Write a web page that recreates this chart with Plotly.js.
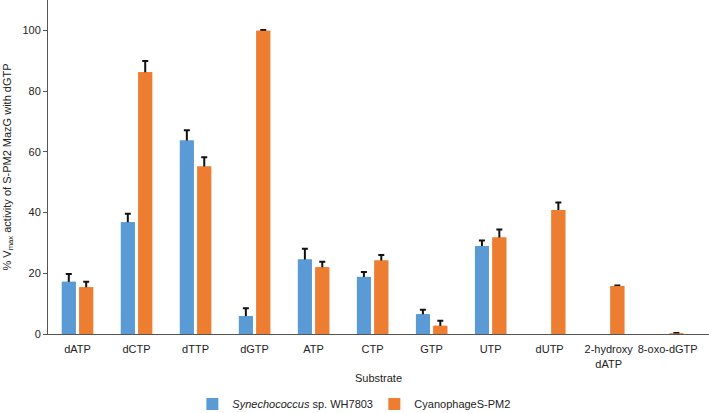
<!DOCTYPE html>
<html>
<head>
<meta charset="utf-8">
<script src="https://cdn.plot.ly/plotly-3.0.1.min.js"></script>
<style>html,body{margin:0;padding:0;background:#fff;}#chart{width:709px;height:413px;}</style>
</head>
<body>
<div id="chart"></div>
<script>
var categories = ['dATP','dCTP','dTTP','dGTP','ATP','CTP','GTP','UTP','dUTP','2-hydroxy<br>dATP','8-oxo-dGTP'];
var hostValues = [17.2, 36.8, 63.7, 5.9, 24.5, 18.8, 6.5, 29.0, null, null, null];
var hostErrors = [2.6, 2.8, 3.4, 2.6, 3.6, 1.6, 1.5, 1.8, null, null, null];
var phageValues = [15.4, 86.2, 55.2, 99.9, 22.0, 24.2, 2.7, 31.8, 40.8, 15.8, 0.2];
var phageErrors = [1.8, 3.7, 3.0, 0.2, 1.8, 1.8, 1.7, 2.6, 2.5, 0.2, 0.1];
var seriesNames = ['<i>Synechococcus</i> sp. WH7803', 'CyanophageS-PM2'];
var seriesColors = ['#5B9BD5', '#ED7D31'];

function errBar(errs) {
  return {type: 'data', array: errs, symmetric: true, visible: true,
          color: '#111', thickness: 2, width: 3};
}
var traces = [
  {type: 'bar', x: categories, y: hostValues, name: seriesNames[0], offsetgroup: 'a',
   marker: {color: seriesColors[0]}, error_y: errBar(hostErrors), hoverinfo: 'skip'},
  {type: 'bar', x: categories, y: phageValues, name: seriesNames[1], offsetgroup: 'b',
   marker: {color: seriesColors[1]}, error_y: errBar(phageErrors), hoverinfo: 'skip'},
  {type: 'bar', x: categories, y: hostValues, name: seriesNames[0], offsetgroup: 'a',
   marker: {color: seriesColors[0]}, showlegend: false, hoverinfo: 'skip'},
  {type: 'bar', x: categories, y: phageValues, name: seriesNames[1], offsetgroup: 'b',
   marker: {color: seriesColors[1]}, showlegend: false, hoverinfo: 'skip'}
];

var fontFam = '"Liberation Sans", Arial, Helvetica, sans-serif';
var layout = {
  width: 709, height: 413,
  margin: {l: 48, r: 0, t: 0, b: 79, autoexpand: false},
  paper_bgcolor: '#fff', plot_bgcolor: '#fff',
  font: {family: fontFam, size: 11, color: '#222'},
  barmode: 'group', bargap: 0.41, bargroupgap: 0.2,
  showlegend: true,
  legend: {orientation: 'h', xref: 'container', yref: 'container', x: 0.528, xanchor: 'center',
           y: 0.022, yanchor: 'middle', font: {size: 11, family: fontFam, color: '#222'},
           entrywidth: 137, entrywidthmode: 'pixels', traceorder: 'normal'},
  xaxis: {
    type: 'category', range: [-0.5, 10.7], automargin: false,
    showline: true, linecolor: '#555', linewidth: 1, ticks: '', showgrid: false, zeroline: false,
    ticklabelstandoff: 5,
    tickfont: {size: 11, family: fontFam, color: '#222'},
    title: {text: 'Substrate', standoff: 5, font: {size: 11, family: fontFam, color: '#222'}}
  },
  yaxis: {
    range: [0, 110], automargin: false, tickvals: [0, 20, 40, 60, 80, 100],
    showline: true, linecolor: '#555', linewidth: 1, ticks: 'outside', ticklen: 4, tickcolor: '#555',
    showgrid: false, zeroline: false,
    tickfont: {size: 11, family: fontFam, color: '#222'},
    title: {text: '% V<sub>max</sub> activity of S-PM2 MazG with dGTP', standoff: 8,
            font: {size: 11, family: fontFam, color: '#222'}}
  }
};
Plotly.newPlot('chart', traces, layout, {staticPlot: true, displayModeBar: false});
</script>
</body>
</html>
